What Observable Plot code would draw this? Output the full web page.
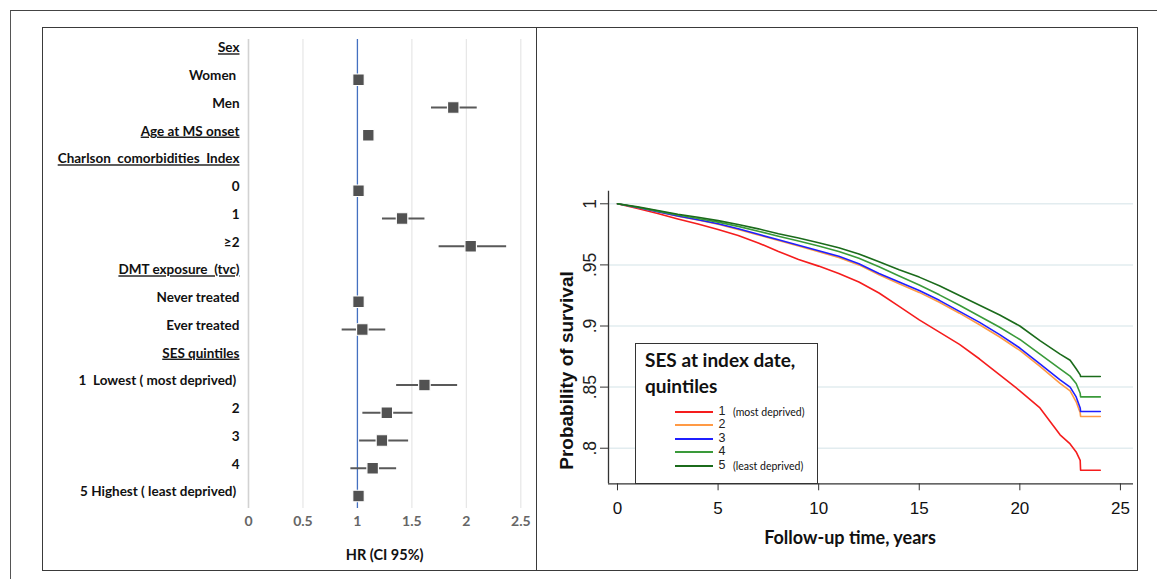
<!DOCTYPE html>
<html><head><meta charset="utf-8">
<script src="https://cdn.jsdelivr.net/npm/d3@7"></script>
<script src="https://cdn.jsdelivr.net/npm/@observablehq/plot@0.6"></script>
<style>
body{margin:0;background:#fff;}
#wrap{position:relative;width:1157px;height:579px;overflow:hidden;background:#fff;}
.abs{position:absolute;}
#legend{position:absolute;left:635px;top:343px;width:183px;height:141px;border:1.3px solid #333;box-sizing:border-box;background:#fff;}
#legTitle{position:absolute;left:9px;top:3px;font:bold 19px Lato,sans-serif;line-height:26px;color:#111;white-space:nowrap;}
.legRow{position:absolute;left:0;height:14px;width:180px;}
.legLine{position:absolute;left:39px;width:38px;top:6px;height:2px;}
.legNum{position:absolute;left:80px;width:12px;text-align:center;top:-1px;font:12.5px "Liberation Sans",Arial,sans-serif;color:#222;line-height:14px;}
.legNote{position:absolute;left:97px;top:0px;font:10.5px Lato,sans-serif;color:#111;line-height:14px;white-space:nowrap;}
</style></head><body><div id="wrap">
<div class="abs" style="left:10px;top:10px;width:1200px;height:600px;border-top:1.5px solid #444;border-left:1.5px solid #555;"></div>
<div class="abs" style="left:42px;top:27px;width:1096px;height:544px;border:1.5px solid #3a3a3a;box-sizing:border-box;"></div>
<div class="abs" style="left:535.5px;top:27px;width:1.5px;height:544px;background:#3a3a3a;"></div>
<div id="forest" class="abs" style="left:43px;top:28px;"></div>
<div id="km" class="abs" style="left:537px;top:28px;"></div>
<div id="legend"><div id="legTitle">SES at index date,<br>quintiles</div></div>
</div>
<script>
// ---------- Forest plot data ----------
const forestLabels = ["Sex","Women ","Men","Age at MS onset","Charlson  comorbidities  Index","0","1","\u22652","DMT exposure  (tvc)","Never treated","Ever treated","SES quintiles","1  Lowest ( most deprived) ","2","3","4","5 Highest ( least deprived) "];
const forestIsHeader = [true,false,false,true,true,false,false,false,true,false,false,true,false,false,false,false,false];
const forestHR = [null,1.01,1.88,1.10,null,1.01,1.41,2.04,null,1.01,1.045,null,1.615,1.27,1.225,1.14,1.01];
const forestLo = [null,null,1.68,null,null,null,1.23,1.75,null,null,0.86,null,1.36,1.05,1.02,0.94,null];
const forestHi = [null,null,2.10,null,null,null,1.62,2.37,null,null,1.26,null,1.92,1.51,1.47,1.36,null];
const hrTicks = [0,0.5,1,1.5,2,2.5];
const hrTickLabels = ["0","0.5","1","1.5","2","2.5"];
const hrGrid = [0.5,1.5,2,2.5];
const hrRef = [1];
const hrTitle = "HR (CI 95%)";

// ---------- Survival data ----------
const kmTimes = [0,1,2,3,4,5,6,7,8,9,10,11,12,13,14,15,16,17,18,19,20,21,22,22.5,22.8,23,23.02,24];
const ses1 = [1,.9962,.992,.9876,.9835,.979,.974,.968,.961,.9545,.949,.943,.936,.927,.916,.905,.895,.885,.873,.86,.847,.833,.811,.8035,.797,.79,.782,.782];
const ses2 = [1,.997,.9935,.9898,.9867,.9832,.979,.9745,.97,.9655,.9608,.956,.95,.942,.9345,.9275,.9195,.9105,.901,.891,.88,.867,.853,.847,.838,.829,.826,.826];
const ses3 = [1,.997,.9935,.99,.987,.9836,.9795,.975,.9705,.966,.9615,.957,.951,.943,.936,.929,.921,.912,.903,.893,.882,.869,.856,.85,.842,.833,.83,.83];
const ses4 = [1,.9972,.994,.9908,.988,.985,.9815,.9775,.9735,.9695,.9655,.961,.9555,.9485,.941,.9335,.9255,.917,.908,.899,.889,.877,.865,.859,.853,.845,.842,.842];
const ses5 = [1,.9975,.9945,.9915,.989,.9862,.983,.9795,.9755,.972,.9682,.964,.959,.9525,.946,.94,.933,.925,.917,.909,.9,.888,.877,.872,.865,.86,.8587,.8587];
const sesNames = ["1","2","3","4","5"];
const sesNotes = ["(most deprived)","","","","(least deprived)"];
const sesColors = ["#f51d1d","#ff9a45","#1f1fff","#3a9a3a","#1b6b1b"];
const yTicks = [0.8,0.85,0.9,0.95,1];
const yTickLabels = [".8",".85",".9",".95","1"];
const xTicks = [0,5,10,15,20,25];
const xTickLabels = ["0","5","10","15","20","25"];
const yTitle = "Probability of survival";
const xTitle = "Follow-up time, years";

// ---------- Forest plot ----------
const rows = forestLabels.map((label,i)=>({i,label,header:forestIsHeader[i],hr:forestHR[i],lo:forestLo[i],hi:forestHi[i]}));
const forest = Plot.plot({
  width: 494, height: 542,
  marginLeft: 205, marginRight: 16.7, marginTop: 11, marginBottom: 62,
  x: {domain:[0,2.5]},
  y: {domain:[-0.45,16.45], reverse:true, axis:null},
  style: {fontFamily:"Lato, sans-serif", background:"transparent", overflow:"visible"},
  marks: [
    Plot.ruleX(hrGrid, {stroke:"#e6e6e6", strokeWidth:1.2}),
    Plot.ruleX([0], {stroke:"#d2d2d2", strokeWidth:1.6}),
    Plot.ruleX(hrRef, {stroke:"#4470c0", strokeWidth:1.3}),
    Plot.ruleY(rows.filter(d=>d.lo!=null), {y:"i", x1:"lo", x2:"hi", stroke:"#595959", strokeWidth:2}),
    Plot.dot(rows.filter(d=>d.hr!=null), {x:"hr", y:"i", symbol:"square", r:6.5, fill:"#525252", stroke:"white", strokeWidth:1.2}),
    Plot.text(rows, {y:"i", text:"label", frameAnchor:"left", textAnchor:"end", dx:-9, dy:-4, fontWeight:"bold", fontSize:13.5, fill:"#111"}),
    Plot.axisX({ticks:hrTicks, tickFormat:(d,i)=>hrTickLabels[hrTicks.indexOf(d)], tickSize:0, tickPadding:8, fontSize:14, fontWeight:"bold", fill:"#666", label:null}),
    Plot.text([hrTitle], {frameAnchor:"bottom", dy:51, fontWeight:"bold", fontSize:14.5, fill:"#111"})
  ]
});
const headerSet = new Set(rows.filter(d=>d.header).map(d=>d.label));
forest.querySelectorAll("text").forEach(t=>{
  t.style.whiteSpace = "pre";
  if (headerSet.has(t.textContent)) t.style.textDecoration = "underline";
});
document.getElementById("forest").append(forest);

// ---------- Survival plot ----------
const series = [ses1,ses2,ses3,ses4,ses5];
const kmRows = [];
series.forEach((vals,g)=>vals.forEach((v,k)=>kmRows.push({group:sesNames[g], t:kmTimes[k], s:v})));
const xDom = [-0.447,25.65], yDom = [0.7709,1.0103];
const km = Plot.plot({
  width: 600, height: 542,
  marginLeft: 71, marginRight: 4, marginTop: 162.7, marginBottom: 86.7,
  x: {domain:xDom},
  y: {domain:yDom},
  color: {domain:sesNames, range:sesColors},
  style: {background:"transparent", overflow:"visible"},
  marks: [
    Plot.ruleY(yTicks, {stroke:"#e2ecef", strokeWidth:1.5}),
    Plot.line(kmRows, {x:"t", y:"s", stroke:"group", strokeWidth:1.6, z:"group"}),
    Plot.ruleX([xDom[0]], {stroke:"#333", strokeWidth:1.3}),
    Plot.ruleY([yDom[0]], {stroke:"#333", strokeWidth:1.3}),
    Plot.axisY({ticks:yTicks, tickFormat:d=>yTickLabels[yTicks.indexOf(d)], tickSize:8, tickPadding:5, tickRotate:-90, fontSize:17.5, fill:"#222", stroke:"#333", label:null, fontFamily:"Liberation Sans, Arial, sans-serif"}),
    Plot.axisX({ticks:xTicks, tickFormat:d=>xTickLabels[xTicks.indexOf(d)], tickSize:7, tickPadding:11, fontSize:17, fill:"#111", stroke:"#333", label:null, fontFamily:"'Liberation Sans Narrow', 'Arial Narrow', 'Liberation Sans', sans-serif"}),
    Plot.text([yTitle], {frameAnchor:"left", textAnchor:"middle", rotate:-90, dx:-42, dy:33, fontSize:19, fontWeight:"bold", fill:"#111", fontFamily:"Liberation Sans, Arial, sans-serif"}),
    Plot.text([xTitle], {frameAnchor:"bottom", dx:-21, dy:60, fontSize:18, fontWeight:"bold", fill:"#111", fontFamily:"Lato, sans-serif"})
  ]
});
document.getElementById("km").append(km);

// ---------- Legend ----------
const leg = document.getElementById("legend");
sesNames.forEach((n,i)=>{
  const r = document.createElement("div");
  r.className = "legRow";
  r.style.top = (60.5 + i*13.6) + "px";
  r.innerHTML = `<div class="legLine" style="background:${sesColors[i]}"></div><div class="legNum">${n}</div><div class="legNote">${sesNotes[i]}</div>`;
  leg.append(r);
});
</script>
</body></html>
